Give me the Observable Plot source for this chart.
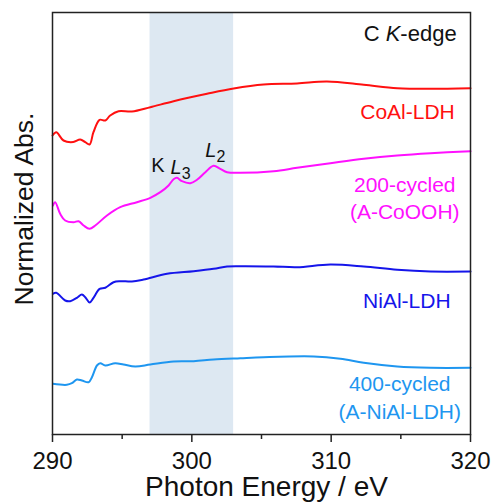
<!DOCTYPE html>
<html><head><meta charset="utf-8">
<script src="https://cdn.jsdelivr.net/npm/d3@7"></script>
<script src="https://cdn.jsdelivr.net/npm/@observablehq/plot@0.6"></script>
<style>body{margin:0;background:#fff;} svg{display:block;}</style>
</head><body><div id="chart"></div>
<script>
// ---- data (normalized absorbance, stacked with offsets as in the figure) ----
const seriesNames = ["CoAl-LDH", "200-cycled", "NiAl-LDH", "400-cycled"];
const seriesColors = ["#ff1010", "#ff10ff", "#1515ea", "#1e96f0"];

const energyCoAl = [290.0,290.27,290.79,291.49,291.99,292.35,292.66,292.94,293.38,293.79,294.14,294.74,295.7,297.02,298.69,301.09,303.0,305.15,307.55,309.7,312.34,314.74,317.13,320];
const absCoAl    = [2.99,3.023,2.94,2.925,2.95,2.923,2.90,3.023,3.147,3.14,3.19,3.233,3.23,3.273,3.333,3.407,3.46,3.50,3.51,3.53,3.497,3.463,3.457,3.463];

const energy200 = [290.03,290.19,290.55,290.91,291.51,291.87,292.23,292.66,293.07,293.91,294.86,296.06,297.02,297.74,298.33,298.69,298.93,299.29,299.89,300.37,300.97,301.56,302.04,302.53,303.48,305.87,307.55,309.94,312.34,314.74,317.13,320];
const abs200    = [2.29,2.323,2.207,2.14,2.123,2.133,2.09,2.057,2.09,2.19,2.273,2.323,2.367,2.423,2.49,2.553,2.567,2.533,2.513,2.547,2.623,2.687,2.657,2.623,2.617,2.633,2.667,2.713,2.757,2.79,2.813,2.833];

const energyNiAl = [290.03,290.27,290.91,291.27,291.75,292.11,292.35,292.66,292.94,293.38,293.79,294.38,294.86,295.7,296.54,298.22,300.13,301.56,302.53,303.48,305.87,307.55,309.94,312.34,314.74,317.13,320];
const absNiAl    = [1.407,1.417,1.34,1.333,1.367,1.40,1.373,1.32,1.367,1.457,1.467,1.523,1.533,1.53,1.55,1.607,1.633,1.657,1.68,1.683,1.68,1.673,1.70,1.68,1.647,1.63,1.63];

const energy400 = [290.03,291.03,291.39,291.75,292.11,292.59,292.83,293.19,293.43,293.79,294.5,295.1,295.94,297.02,298.69,300.13,301.56,303.48,305.15,308.75,310.66,312.34,314.74,317.13,320];
const abs400    = [0.507,0.497,0.513,0.55,0.54,0.523,0.573,0.69,0.713,0.69,0.713,0.70,0.68,0.70,0.73,0.733,0.75,0.763,0.773,0.78,0.757,0.717,0.68,0.667,0.667];

const xTicks = [290, 300, 310, 320];
const xMinorTicks = [295, 305, 315];
const bandStart = [297];
const bandEnd = [303];

const sampleLabels = ["CoAl-LDH", "200-cycled\n(A-CoOOH)", "NiAl-LDH", "400-cycled\n(A-NiAl-LDH)"];
const sampleLabelX = [315.48, 315.28, 315.43, 314.92];
const sampleLabelY = [3.24, 2.378, 1.35, 0.381];

const kLabel = ["K"];
const kLabelX = [297.56];
const kLabelY = [2.687];
const lLabels = ["L3", "L2"];
const lLabelX = [298.47, 300.97];
const lLabelY = [2.671, 2.837];

const edgeLabel = "C K-edge";
const edgeLabelX = [315.67];
const edgeLabelY = [4.007];
const xTitle = "Photon Energy / eV";
const yTitle = "Normalized Abs.";

// ---- build tables ----
const energies = [energyCoAl, energy200, energyNiAl, energy400];
const absorb = [absCoAl, abs200, absNiAl, abs400];
const rows = [];
seriesNames.forEach((s, i) => energies[i].forEach((e, j) => rows.push({s, e, a: absorb[i][j]})));
const labelRows = sampleLabels.map((t, i) => ({t, x: sampleLabelX[i], y: sampleLabelY[i], s: seriesNames[i]}));
const kRows = kLabel.map((t, i) => ({t, x: kLabelX[i], y: kLabelY[i]}));
const lRows = lLabels.map((t, i) => ({t, x: lLabelX[i], y: lLabelY[i]}));
const edgeRows = [{t: edgeLabel, x: edgeLabelX[0], y: edgeLabelY[0]}];
const bandRows = bandStart.map((b, i) => ({x1: b, x2: bandEnd[i]}));

const chart = Plot.plot({
  width: 493,
  height: 504,
  marginLeft: 52,
  marginRight: 23,
  marginTop: 12,
  marginBottom: 70,
  style: {fontFamily: "'Liberation Sans', Arial, sans-serif", color: "#111", background: "#fff"},
  x: {domain: [290, 320]},
  y: {domain: [0, 4.22], axis: null},
  color: {domain: seriesNames, range: seriesColors},
  marks: [
    Plot.rect(bandRows, {x1: "x1", x2: "x2", fill: "#dde8f2"}),
    Plot.line(rows, {x: "e", y: "a", z: "s", stroke: "s", strokeWidth: 2, curve: "catmull-rom"}),
    Plot.frame({stroke: "#222", strokeWidth: 1.5}),
    Plot.axisX({ticks: xTicks, tickSize: 8, tickPadding: 9, fontSize: 24, label: null, stroke: "#222", strokeWidth: 1.5}),
    Plot.axisX({ticks: xMinorTicks, tickSize: 5, tickFormat: () => "", label: null, stroke: "#222", strokeWidth: 1.5}),
    Plot.text([xTitle], {frameAnchor: "bottom", lineAnchor: "middle", dy: 52.5, dx: 5, fontSize: 28, fill: "#111"}),
    Plot.text([yTitle], {frameAnchor: "left", rotate: -90, textAnchor: "middle", lineAnchor: "middle", dx: -28, dy: -14.5, fontSize: 26.5, fill: "#111"}),
    Plot.text(edgeRows, {x: "x", y: "y", text: "t", textAnchor: "middle", fontSize: 22, fill: "#111"}),
    Plot.text(labelRows, {x: "x", y: "y", text: "t", fill: "s", fontSize: 21, lineHeight: 1.3, textAnchor: "middle"}),
    Plot.text(kRows, {x: "x", y: "y", text: "t", fontSize: 20, fill: "#111", textAnchor: "middle"}),
    Plot.text(lRows, {x: "x", y: "y", text: "t", fontSize: 20, fill: "#111", textAnchor: "start"})
  ]
});

// rich-text formatting (italic K, italic L with subscripts)
d3.select(chart).selectAll("text").each(function() {
  const el = d3.select(this);
  if (this.childNodes.length === 1 && this.firstChild.nodeType === 3) {
    const t = this.textContent;
    if (t === edgeLabel) {
      el.text(null);
      el.append("tspan").text("C ");
      el.append("tspan").attr("font-style", "italic").text("K");
      el.append("tspan").text("-edge");
    } else if (t === "L3" || t === "L2") {
      el.text(null);
      el.append("tspan").attr("font-style", "italic").text("L");
      el.append("tspan").attr("font-size", 16).attr("dy", 5).text(t.slice(1));
    }
  }
});

document.getElementById("chart").appendChild(chart);
</script>
</body></html>
